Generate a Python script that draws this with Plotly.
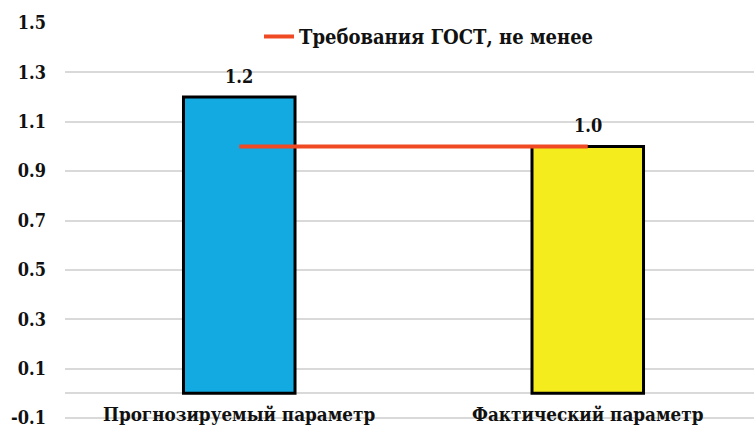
import plotly.graph_objects as go

# Data
categories = ["Прогнозируемый параметр", "Фактический параметр"]
values = [1.2, 1.0]
bar_colors = ["#13a9e1", "#f5ec1e"]
gost_name = "Требования ГОСТ, не менее"
gost_level = [1.0, 1.0]
y_ticks = [-0.1, 0.1, 0.3, 0.5, 0.7, 0.9, 1.1, 1.3, 1.5]

FONT = "DejaVu Serif Condensed, DejaVu Serif, serif"
INK = "#111111"

fig = go.Figure()

fig.add_trace(go.Bar(
    x=categories,
    y=values,
    width=0.32,
    marker=dict(color=bar_colors, line=dict(color="black", width=3)),
    showlegend=False,
    hoverinfo="skip",
))

fig.add_trace(go.Scatter(
    x=categories,
    y=gost_level,
    mode="lines",
    name=gost_name,
    line=dict(color="#f04a25", width=4),
))

# value labels above bars
for c, v in zip(categories, values):
    fig.add_annotation(
        x=c, y=v, text=f"<b>{v:.1f}</b>", showarrow=False,
        yanchor="bottom", yshift=8,
        font=dict(family=FONT, size=18, color=INK),
    )

# category captions along the bottom line
for c in categories:
    fig.add_annotation(
        x=c, y=-0.1, text=f"<b>{c}</b>", showarrow=False,
        yanchor="middle", yshift=4,
        font=dict(family=FONT, size=18.7, color=INK),
    )

fig.update_layout(
    width=754,
    height=430,
    margin=dict(l=65, r=0, t=22, b=10),
    plot_bgcolor="white",
    paper_bgcolor="white",
    font=dict(family=FONT, color=INK),
    legend=dict(
        x=0.2816, y=1.0126, xanchor="left", yanchor="top",
        bgcolor="rgba(0,0,0,0)",
        font=dict(family=FONT, size=20, color=INK, weight="bold"),
        itemwidth=30,
    ),
)

fig.update_xaxes(
    type="category",
    range=[-0.5, 1.477],
    showticklabels=False,
    showgrid=False,
    showline=False,
    zeroline=False,
)

fig.update_yaxes(
    range=[-0.108, 1.504],
    tickvals=y_ticks,
    ticktext=[f"{t:.1f}" for t in y_ticks],
    tickfont=dict(family=FONT, size=18, color=INK, weight="bold"),
    ticklabelstandoff=18,
    ticklabeloverflow="allow",
    showgrid=True,
    gridcolor="#d9d9d9",
    gridwidth=1.5,
    zeroline=True,
    zerolinecolor="#d9d9d9",
    zerolinewidth=1.5,
    showline=False,
)

fig.write_html("out.html")
